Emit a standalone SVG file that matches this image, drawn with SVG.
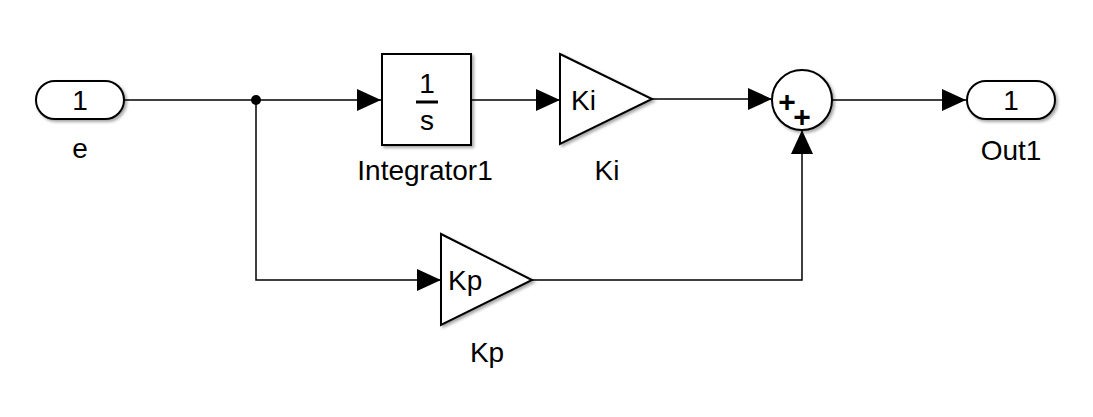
<svg xmlns="http://www.w3.org/2000/svg" width="1093" height="417" viewBox="0 0 1093 417">
<style>
.blk{fill:#fff;stroke:#000;stroke-width:2;filter:url(#sh)}
.wire{fill:none;stroke:#000;stroke-width:1.5}
.t{font-family:"Liberation Sans",Arial,sans-serif;font-size:28px;fill:#000}
.c{text-anchor:middle}
.plus{font-family:"Liberation Sans",Arial,sans-serif;font-size:30px;font-weight:bold;text-anchor:middle;fill:#000}
</style>
<defs>
<filter id="sh" x="-20%" y="-20%" width="150%" height="150%">
<feDropShadow dx="2" dy="2" stdDeviation="1.5" flood-color="#000" flood-opacity="0.35"/>
</filter>
<marker id="ah" markerUnits="userSpaceOnUse" markerWidth="24" markerHeight="24" refX="24" refY="12" orient="auto">
<path d="M0,1 L24,12 L0,23 Z" fill="#000"/>
</marker>
</defs>
<rect width="1093" height="417" fill="#fff"/>

<g id="connectors">
<polyline class="wire" points="124,100 381,100" marker-end="url(#ah)"/>
<polyline class="wire" points="471,100 560,100" marker-end="url(#ah)"/>
<polyline class="wire" points="652,99 772,99" marker-end="url(#ah)"/>
<polyline class="wire" points="832,100 966,100" marker-end="url(#ah)"/>
<polyline class="wire" points="256,100 256,280 441,280" marker-end="url(#ah)"/>
<polyline class="wire" points="532,280 802,280 802,130" marker-end="url(#ah)"/>
<circle cx="256" cy="100" r="5" fill="#000"/>
</g>

<g id="e">
<rect class="blk" x="36" y="81" width="88" height="38" rx="19" ry="19"/>
<text class="t c" x="80" y="110">1</text>
<text class="t c" x="80" y="158">e</text>
</g>

<g id="Integrator1">
<rect class="blk" x="382" y="54" width="89" height="91"/>
<text class="t c" x="427" y="93">1</text>
<line x1="416" y1="102" x2="438" y2="102" stroke="#000" stroke-width="3"/>
<text class="t c" x="427" y="130">s</text>
<text class="t c" x="425" y="180">Integrator1</text>
</g>

<g id="Ki">
<polygon class="blk" points="560,54 652,99 560,144"/>
<text class="t" x="571" y="110">Ki</text>
<text class="t c" x="607" y="180">Ki</text>
</g>

<g id="Sum">
<circle class="blk" cx="802" cy="100" r="30"/>
<text class="plus" x="787" y="112">+</text>
<text class="plus" x="802" y="127">+</text>
</g>

<g id="Kp">
<polygon class="blk" points="441,234 532,280 441,325"/>
<text class="t" x="448" y="290">Kp</text>
<text class="t c" x="487" y="362">Kp</text>
</g>

<g id="Out1">
<rect class="blk" x="967" y="81" width="88" height="38" rx="19" ry="19"/>
<text class="t c" x="1011" y="110">1</text>
<text class="t c" x="1011" y="160">Out1</text>
</g>
</svg>
